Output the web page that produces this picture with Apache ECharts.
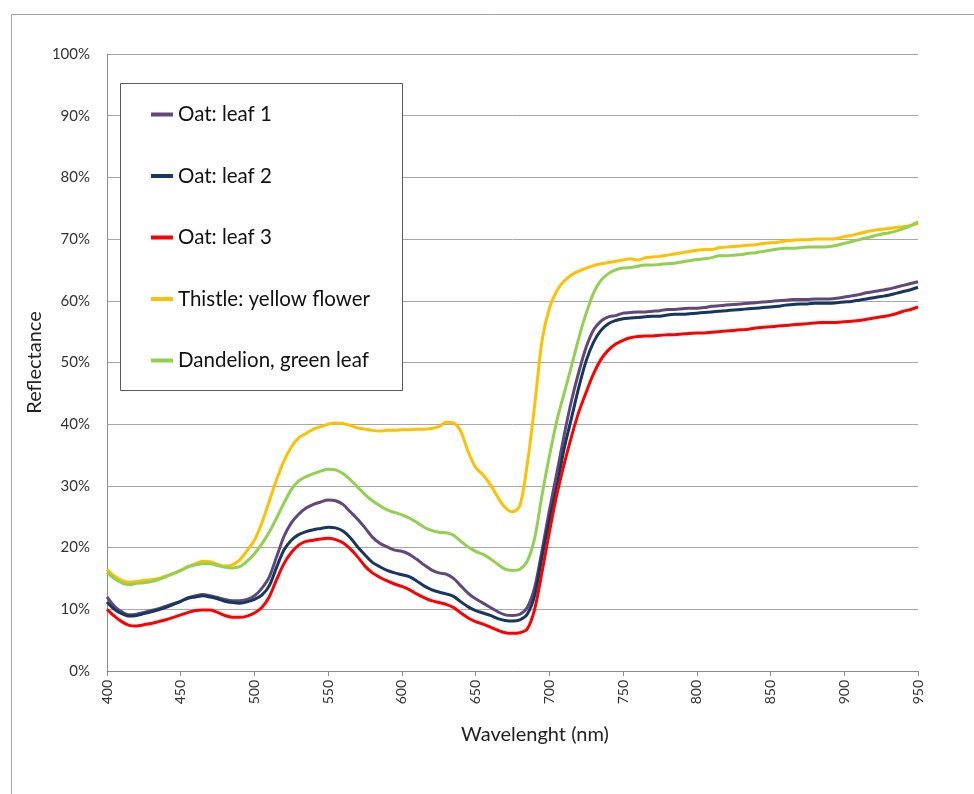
<!DOCTYPE html>
<html>
<head>
<meta charset="utf-8">
<script src="https://cdn.jsdelivr.net/npm/echarts@6/dist/echarts.min.js"></script>
<style>html,body{margin:0;padding:0;background:#fff}#c{width:974px;height:794px}</style>
</head>
<body>
<div id="c"></div>
<script>
// wavelength start/step (nm)
const wlStart = 400, wlStep = 5;
const seriesNames = ['Oat: leaf 1', 'Oat: leaf 2', 'Oat: leaf 3', 'Thistle: yellow flower', 'Dandelion, green leaf'];
const xTicks = [400,450,500,550,600,650,700,750,800,850,900,950];

const oatLeaf1 = [12.0,10.5,9.6,9.1,9.2,9.5,9.8,10.1,10.5,10.9,11.3,11.9,12.2,12.4,12.2,11.9,11.6,11.4,11.4,11.6,
12.2,13.4,15.2,18.5,21.8,24.0,25.4,26.4,27.0,27.4,27.7,27.6,27.0,25.8,24.6,23.2,21.7,20.7,20.1,19.6,
19.4,18.9,18.1,17.2,16.4,15.9,15.7,15.0,13.8,12.6,11.7,11.0,10.3,9.6,9.1,9.0,9.2,10.3,13.5,19.5,
26.0,32.0,38.2,43.8,48.5,52.5,55.3,56.7,57.4,57.6,58.0,58.1,58.2,58.2,58.3,58.4,58.6,58.6,58.7,58.8,
58.8,58.9,59.1,59.2,59.3,59.4,59.5,59.6,59.7,59.8,59.9,60.0,60.1,60.2,60.2,60.2,60.3,60.3,60.3,60.4,
60.6,60.8,61.0,61.3,61.5,61.7,61.9,62.2,62.5,62.8,63.1];

const oatLeaf2 = [11.2,10.0,9.3,8.9,9.0,9.3,9.6,9.9,10.3,10.8,11.3,11.8,12.0,12.2,12.0,11.7,11.3,11.1,11.0,11.2,
11.6,12.3,13.8,16.8,19.6,21.2,22.1,22.6,22.9,23.1,23.3,23.2,22.7,21.6,20.1,18.8,17.6,16.9,16.3,15.9,
15.6,15.3,14.6,13.8,13.2,12.8,12.5,12.1,11.2,10.4,9.8,9.4,9.0,8.5,8.2,8.1,8.3,9.2,12.2,18.5,
24.5,29.8,36.0,41.0,46.0,50.3,53.3,55.2,56.3,56.8,57.1,57.2,57.3,57.4,57.5,57.5,57.7,57.8,57.8,57.9,
58.0,58.1,58.2,58.3,58.4,58.5,58.6,58.7,58.8,58.9,59.0,59.1,59.3,59.4,59.5,59.5,59.6,59.6,59.6,59.7,
59.8,59.9,60.1,60.3,60.5,60.7,60.9,61.2,61.5,61.8,62.2];

const oatLeaf3 = [10.0,8.9,8.0,7.4,7.3,7.5,7.7,8.0,8.3,8.7,9.1,9.5,9.8,9.9,9.9,9.5,9.0,8.7,8.7,8.9,
9.4,10.3,12.0,14.8,17.4,19.2,20.4,21.0,21.2,21.4,21.5,21.3,20.8,19.8,18.5,17.0,15.9,15.2,14.6,14.1,
13.7,13.2,12.5,11.9,11.4,11.1,10.8,10.3,9.4,8.6,8.0,7.6,7.1,6.6,6.2,6.1,6.2,6.8,10.0,16.0,
22.5,28.5,33.5,38.0,42.0,45.2,48.2,50.5,52.0,53.0,53.6,54.0,54.2,54.3,54.3,54.4,54.5,54.5,54.6,54.7,
54.8,54.8,54.9,55.0,55.1,55.2,55.3,55.4,55.6,55.7,55.8,55.9,56.0,56.1,56.2,56.3,56.4,56.5,56.5,56.5,
56.6,56.7,56.8,57.0,57.2,57.4,57.6,57.9,58.3,58.6,59.0];

const thistle = [16.5,15.4,14.7,14.4,14.5,14.7,14.8,15.0,15.4,15.8,16.3,16.9,17.4,17.8,17.7,17.3,17.0,17.2,18.0,19.5,
21.2,24.0,27.5,31.0,34.0,36.3,37.8,38.5,39.2,39.6,40.0,40.2,40.1,39.8,39.4,39.2,39.0,38.9,39.0,39.0,
39.1,39.1,39.2,39.2,39.3,39.6,40.3,40.2,38.8,35.5,33.0,31.8,30.2,28.2,26.5,25.8,26.8,33.5,43.0,53.5,
58.8,61.6,63.2,64.2,64.8,65.3,65.7,66.0,66.2,66.4,66.6,66.8,66.6,67.0,67.1,67.2,67.4,67.6,67.8,68.0,
68.2,68.3,68.3,68.6,68.7,68.8,68.9,69.0,69.1,69.3,69.4,69.5,69.7,69.8,69.9,69.9,70.0,70.0,70.0,70.1,
70.4,70.6,70.9,71.2,71.4,71.6,71.7,71.9,72.0,72.2,72.5];

const dandelion = [16.0,15.0,14.3,14.0,14.2,14.3,14.5,14.8,15.3,15.8,16.3,16.9,17.2,17.4,17.4,17.1,16.8,16.7,16.9,17.8,
19.0,20.6,22.5,24.8,27.2,29.4,30.8,31.5,32.0,32.4,32.7,32.6,32.0,31.0,29.8,28.6,27.6,26.8,26.1,25.7,
25.3,24.8,24.1,23.3,22.8,22.5,22.4,22.0,21.0,20.1,19.4,18.9,18.2,17.3,16.5,16.3,16.5,17.8,21.5,28.5,
34.8,40.5,45.0,49.4,54.0,58.0,61.3,63.3,64.4,65.0,65.3,65.4,65.6,65.8,65.8,65.9,66.0,66.1,66.3,66.5,
66.7,66.8,67.0,67.3,67.3,67.4,67.5,67.7,67.8,68.0,68.2,68.4,68.5,68.5,68.6,68.7,68.7,68.7,68.8,69.0,
69.3,69.6,69.9,70.2,70.5,70.8,71.0,71.3,71.7,72.2,72.8];

const colors = ['#60497A', '#17375E', '#FF0000', '#FFC000', '#92D050'];
const allData = [oatLeaf1, oatLeaf2, oatLeaf3, thistle, dandelion];

const FONT = 'Lato';
const chart = echarts.init(document.getElementById('c'));
chart.setOption({
  animation: false,
  backgroundColor: '#fff',
  grid: { left: 107, right: 56, top: 54, bottom: 123, containLabel: false },
  xAxis: {
    type: 'value', min: 400, max: 950, interval: 50,
    name: 'Wavelenght (nm)', nameLocation: 'middle', nameGap: 54, nameMoveOverlap: false,
    nameTextStyle: { fontFamily: FONT, fontSize: 20, color: '#222', padding: [0, 0, 0, 45] },
    axisLine: { show: true, lineStyle: { color: '#8c8c8c', width: 1 } },
    axisTick: { show: true, length: 5, lineStyle: { color: '#8c8c8c' } },
    axisLabel: { rotate: 90, margin: 9, fontFamily: FONT, fontSize: 14, color: '#333' },
    splitLine: { show: false }
  },
  yAxis: {
    type: 'value', min: 0, max: 100, interval: 10,
    name: 'Reflectance', nameLocation: 'middle', nameGap: 62, nameMoveOverlap: false,
    nameTextStyle: { fontFamily: FONT, fontSize: 20, color: '#222' },
    axisLine: { show: true, lineStyle: { color: '#8c8c8c', width: 1 } },
    axisTick: { show: false },
    axisLabel: { formatter: '{value}%', margin: 17, fontFamily: FONT, fontSize: 15, color: '#333' },
    splitLine: { show: true, lineStyle: { color: '#a8a8a8', width: 1 } }
  },
  legend: {
    orient: 'vertical', left: 146, top: 99,
    itemWidth: 22, itemHeight: 4, icon: 'rect', itemGap: 40.5,
    textStyle: { fontFamily: FONT, fontSize: 20.5, color: '#111', lineHeight: 20 },
    data: seriesNames, z: 10
  },
  graphic: [
    { type: 'rect', z: 100, zlevel: 0, silent: true,
      shape: { x: 11.5, y: 14.5, width: 1100, height: 1100 },
      style: { fill: 'none', stroke: '#a6a6a6', lineWidth: 1 } },
    { type: 'rect', z: 5, silent: true,
      shape: { x: 120.5, y: 83.5, width: 282, height: 307 },
      style: { fill: '#fff', stroke: '#595959', lineWidth: 1 } }
  ],
  series: seriesNames.map((n, i) => ({
    name: n, type: 'line', showSymbol: false, smooth: 0.3,
    color: colors[i],
    lineStyle: { width: 3, color: colors[i] },
    data: allData[i].map((v, k) => [wlStart + k * wlStep, v])
  }))
});
</script>
</body>
</html>
